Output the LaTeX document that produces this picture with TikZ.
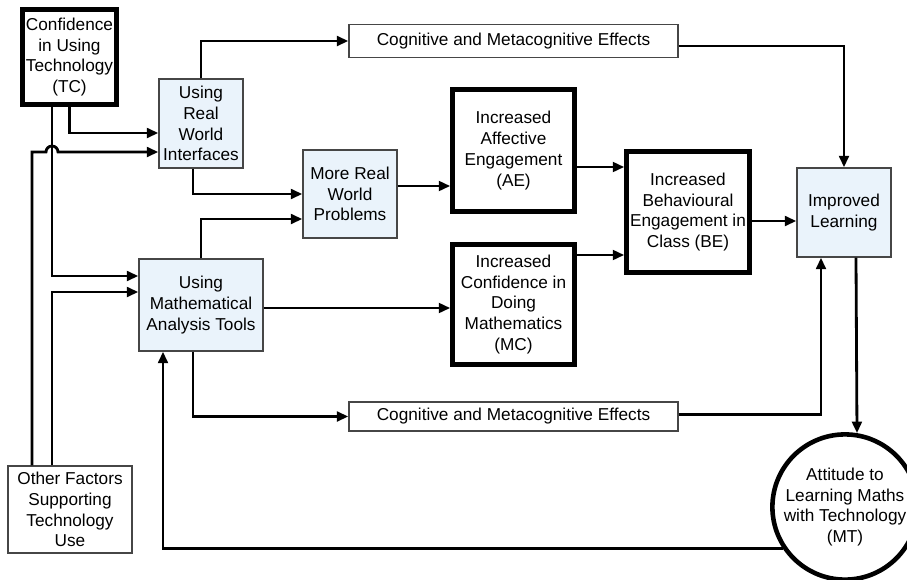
\documentclass[tikz,border=0pt]{standalone}
\usepackage{fontspec}
\setmainfont{Liberation Sans}
\usetikzlibrary{arrows.meta,calc}
\definecolor{paleblue}{RGB}{234,243,251}
\definecolor{edgegray}{RGB}{70,70,70}
\tikzset{
  every node/.style={font=\fontsize{9.8}{11.8}\selectfont, align=center, inner sep=0pt},
  softbox/.style={draw=edgegray, line width=0.8pt, fill=paleblue},
  plainbox/.style={draw=edgegray, line width=0.8pt, fill=white},
  heavybox/.style={draw, line width=2.6pt, fill=white},
  link/.style={line width=1.6pt, -{Triangle[length=6.5pt,width=5.5pt]}},
}

\begin{document}
\begin{tikzpicture}[x=0.02cm, y=-0.02cm]
  \useasboundingbox (0, 0) rectangle (907, 579);
  \node [heavybox, minimum width=1.89cm, minimum height=1.9cm] at (69.5, 57) (tc) {Confidence\\in Using\\Technology\\(TC)};
  \node [softbox, minimum width=1.68cm, minimum height=1.78cm] at (201, 123.5) (rwi) {Using\\Real\\World\\Interfaces};
  \node [softbox, minimum width=2.48cm, minimum height=1.84cm] at (201, 305) (mat) {Using\\Mathematical\\Analysis Tools};
  \node [plainbox, minimum width=2.48cm, minimum height=1.74cm] at (70, 509.5) (of) {Other Factors\\Supporting\\Technology\\Use};
  \node [softbox, minimum width=1.88cm, minimum height=1.76cm] at (350, 194) (mrwp) {More Real\\World\\Problems};
  \node [heavybox, minimum width=2.44cm, minimum height=2.44cm] at (513.5, 150.5) (ae) {Increased\\Affective\\Engagement\\(AE)};
  \node [heavybox, minimum width=2.44cm, minimum height=2.40cm] at (513.5, 304.5) (mc) {Increased\\Confidence in\\Doing\\Mathematics\\(MC)};
  \node [heavybox, minimum width=2.46cm, minimum height=2.42cm] at (688, 212) (be) {Increased\\Behavioural\\Engagement in\\Class (BE)};
  \node [softbox, minimum width=1.88cm, minimum height=1.78cm] at (844, 212.5) (il) {Improved\\Learning};
  \node [plainbox, minimum width=6.58cm, minimum height=0.66cm] at (513.5, 41) (cogup) {Cognitive and Metacognitive Effects};
  \node [plainbox, minimum width=6.58cm, minimum height=0.58cm] at (513.5, 416.5) (coglow) {Cognitive and Metacognitive Effects};
  \node [heavybox, circle, minimum size=2.72cm] at (845, 507) (mt) {Attitude to\\Learning Maths\\with Technology\\(MT)};

  \coordinate (hop) at ($(tc.south |- rwi.west)+(-17.5, 28.5)$);

  \draw [link] (tc.south) |- ($(rwi.west)+(0, 9.5)$);
  \draw [link] ($(tc.south)+(-17.5, 0)$) |- ($(mat.west)+(0, -29)$);
  \draw [link] ($(of.north)+(-38, 0)$) |- ([xshift=-0.12cm]hop) arc [start angle=180, end angle=0, radius=0.12cm] -- (hop -| rwi.west);
  \draw [link] ($(of.north)+(-18, 0)$) |- ($(mat.west)+(0, -13)$);
  \draw [link] (rwi.north) |- (cogup.west);
  \draw [link] ($(rwi.south)+(-8, 0)$) |- (mrwp.west);
  \draw [link] (mat.north) |- ($(mrwp.west)+(0, 25)$);
  \draw [link] ($(mrwp.east)+(0, -8)$) -- ($(ae.west |- mrwp.east)+(0, -8)$);
  \draw [link] ($(ae.east)+(0, 16.5)$) -- ($(be.west |- ae.east)+(0, 16.5)$);
  \draw [link] ($(mc.east)+(0, -49.5)$) -- ($(be.west |- mc.east)+(0, -49.5)$);
  \draw [link] ($(mat.east)+(0, 3)$) -- ($(mc.west |- mat.east)+(0, 3)$);
  \draw [link] ($(be.east)+(0, 9)$) -- ($(il.west |- be.east)+(0, 9)$);
  \draw [link] ($(cogup.east)+(0, 5)$) -| (il.north);
  \draw [link] ($(mat.south)+(-8, 0)$) |- (coglow.west);
  \draw [link] ($(coglow.east)+(0, -2)$) -| ($(il.south)+(-23, 0)$);
  \draw [link] ($(il.south)+(12, 0)$) -- ($(mt.north)+(12, 1)$);
  \draw [link] (mt.214) -| ($(mat.south)+(-38, 0)$);
\end{tikzpicture}
\end{document}
